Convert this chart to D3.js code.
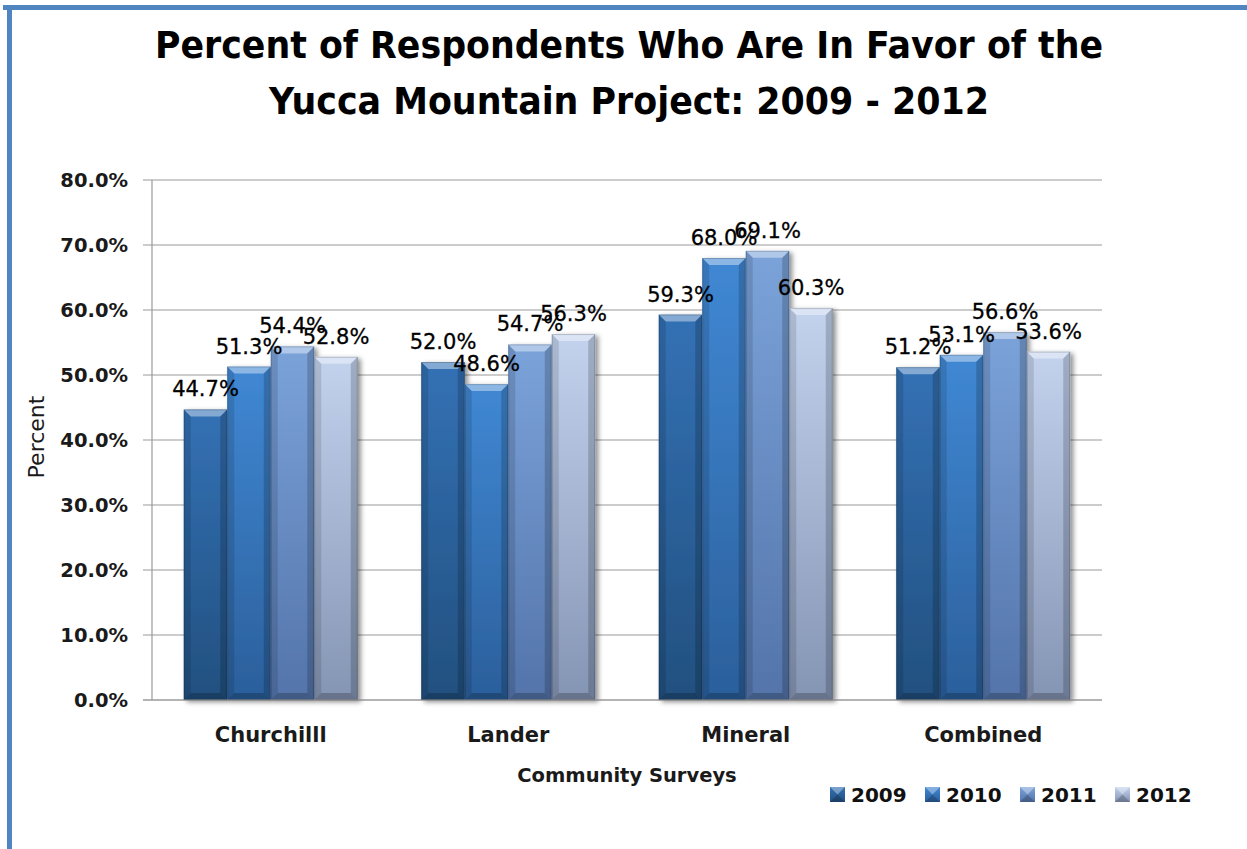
<!DOCTYPE html>
<html><head><meta charset="utf-8">
<script src="https://cdn.jsdelivr.net/npm/d3@7"></script>
<style>
html,body{margin:0;padding:0;background:#fff;}
svg{display:block;}
</style></head>
<body>
<script>
const categories = ["Churchilll", "Lander", "Mineral", "Combined"];
const seriesNames = ["2009", "2010", "2011", "2012"];
const values2009 = [44.7, 52.0, 59.3, 51.2];
const values2010 = [51.3, 48.6, 68.0, 53.1];
const values2011 = [54.4, 54.7, 69.1, 56.6];
const values2012 = [52.8, 56.3, 60.3, 53.6];
const yTicks = [0, 10, 20, 30, 40, 50, 60, 70, 80];
const titleLines = ["Percent of Respondents Who Are In Favor of the", "Yucca Mountain Project: 2009 - 2012"];

const seriesValues = [values2009, values2010, values2011, values2012];
const colorsTop = ["#3371b5", "#4088d4", "#7ba3da", "#c3d3ee"];
const colorsBot = ["#22507f", "#2b5f9b", "#5374aa", "#8494b3"];

const W = 1247, H = 849;
const svg = d3.select("body").append("svg").attr("width", W).attr("height", H);
const defs = svg.append("defs");

// frame
svg.append("rect").attr("x", 3).attr("y", 5).attr("width", W).attr("height", 5).attr("fill", "#4f86c2");
svg.append("rect").attr("x", 7).attr("y", 5).attr("width", 5).attr("height", H).attr("fill", "#4f86c2");

// title
const titleWidths = [948, 720];
const title = svg.append("text").attr("text-anchor", "middle")
  .attr("font-family", "'DejaVu Sans Condensed','DejaVu Sans',sans-serif")
  .attr("font-weight", "bold").attr("font-size", 37).attr("fill", "#000");
titleLines.forEach((t, i) => {
  title.append("tspan").attr("x", 629).attr("y", 58 + i * 56)
    .attr("textLength", titleWidths[i]).attr("lengthAdjust", "spacingAndGlyphs").text(t);
});

const plot = {left: 152, right: 1102, top: 180, bottom: 700};
const y = d3.scaleLinear().domain([0, 80]).range([plot.bottom, plot.top]);
const x0 = d3.scaleBand().domain(categories).range([plot.left, plot.right]).padding(0);
const groupW = 174;
const x1 = d3.scaleBand().domain(seriesNames).range([0, groupW]).padding(0);

// gridlines
svg.append("g").selectAll("line").data(yTicks).join("line")
  .attr("x1", plot.left - 9).attr("x2", plot.right)
  .attr("y1", d => y(d)).attr("y2", d => y(d))
  .attr("stroke", "#9a9a9a").attr("stroke-width", 1.2);
svg.append("line").attr("x1", plot.left).attr("x2", plot.left)
  .attr("y1", plot.top).attr("y2", plot.bottom).attr("stroke", "#9a9a9a").attr("stroke-width", 1.2);

// y tick labels
svg.append("g").selectAll("text").data(yTicks).join("text")
  .attr("x", 128).attr("y", d => y(d)).attr("dy", "0.36em")
  .attr("text-anchor", "end")
  .attr("font-family", "'DejaVu Sans',sans-serif").attr("font-weight", "bold").attr("font-size", 19.5)
  .attr("fill", "#1a1a1a")
  .text(d => d3.format(".1f")(d) + "%");

// gradients
seriesNames.forEach((s, i) => {
  const g = defs.append("linearGradient").attr("id", "grad" + i).attr("x1", 0).attr("y1", 0).attr("x2", 0).attr("y2", 1);
  g.append("stop").attr("offset", "0%").attr("stop-color", colorsTop[i]);
  g.append("stop").attr("offset", "100%").attr("stop-color", colorsBot[i]);
});
const f = defs.append("filter").attr("id", "shadow").attr("x", "-20%").attr("y", "-10%").attr("width", "140%").attr("height", "120%");
f.append("feDropShadow").attr("dx", 3).attr("dy", 2).attr("stdDeviation", 2.5).attr("flood-color", "#000").attr("flood-opacity", 0.45);

const bevel = 7;
const bars = [];
categories.forEach((c, ci) => {
  seriesNames.forEach((s, si) => {
    bars.push({c, s, si, v: seriesValues[si][ci]});
  });
});

const gBars = svg.append("g");
const barG = gBars.selectAll("g.bar").data(bars).join("g").attr("class", "bar")
  .attr("transform", d => `translate(${x0(d.c) + (x0.bandwidth() - groupW) / 2 + x1(d.s)},0)`);

barG.each(function(d) {
  const g = d3.select(this);
  const w = x1.bandwidth();
  const top = y(d.v), bot = y(0), h = bot - top;
  g.append("rect").attr("x", 0).attr("y", top).attr("width", w).attr("height", h)
    .attr("fill", `url(#grad${d.si})`).attr("filter", "url(#shadow)");
  g.append("path").attr("d", `M0,${top} L${w},${top} L${w - bevel},${top + bevel} L${bevel},${top + bevel} Z`)
    .attr("fill", "#ffffff").attr("fill-opacity", 0.4);
  g.append("path").attr("d", `M0,${top} L${bevel},${top + bevel} L${bevel},${bot - bevel} L0,${bot} Z`)
    .attr("fill", "#000").attr("fill-opacity", 0.12);
  g.append("path").attr("d", `M${w},${top} L${w - bevel},${top + bevel} L${w - bevel},${bot - bevel} L${w},${bot} Z`)
    .attr("fill", "#000").attr("fill-opacity", 0.18);
  g.append("path").attr("d", `M0,${bot} L${bevel},${bot - bevel} L${w - bevel},${bot - bevel} L${w},${bot} Z`)
    .attr("fill", "#000").attr("fill-opacity", 0.22);
  g.append("rect").attr("x", 0.5).attr("y", top + 0.5).attr("width", w - 1).attr("height", h - 1)
    .attr("fill", "none").attr("stroke", "#000").attr("stroke-opacity", 0.18);
});

// x axis baseline
svg.append("line").attr("x1", plot.left - 9).attr("x2", plot.right)
  .attr("y1", plot.bottom).attr("y2", plot.bottom).attr("stroke", "#9a9a9a").attr("stroke-width", 1.2);

// data labels
svg.append("g").selectAll("text").data(bars).join("text")
  .attr("x", d => x0(d.c) + (x0.bandwidth() - groupW) / 2 + x1(d.s) + x1.bandwidth() / 2)
  .attr("y", d => y(d.v) - 13)
  .attr("text-anchor", "middle")
  .attr("font-family", "'DejaVu Sans',sans-serif").attr("font-size", 21).attr("fill", "#000")
  .attr("stroke", "#000").attr("stroke-width", 0.3)
  .text(d => d3.format(".1f")(d.v) + "%");

// category labels
svg.append("g").selectAll("text").data(categories).join("text")
  .attr("x", d => x0(d) + x0.bandwidth() / 2).attr("y", 742)
  .attr("text-anchor", "middle")
  .attr("font-family", "'DejaVu Sans',sans-serif").attr("font-weight", "bold").attr("font-size", 21)
  .attr("fill", "#1a1a1a").text(d => d);

// axis titles
svg.append("text").attr("x", 627).attr("y", 782).attr("text-anchor", "middle")
  .attr("font-family", "'DejaVu Sans',sans-serif").attr("font-weight", "bold").attr("font-size", 19.5)
  .attr("fill", "#1a1a1a").text("Community Surveys");
svg.append("text").attr("transform", "translate(44,437) rotate(-90)").attr("text-anchor", "middle")
  .attr("font-family", "'DejaVu Sans',sans-serif").attr("font-size", 22)
  .attr("fill", "#1a1a1a").text("Percent");

// legend
const legend = svg.append("g").selectAll("g").data(seriesNames).join("g")
  .attr("transform", (d, i) => `translate(${830 + i * 95},787)`);
legend.each(function(d, i) {
  const g = d3.select(this);
  const s = 15;
  g.append("rect").attr("width", s).attr("height", s).attr("fill", `url(#grad${i})`);
  g.append("path").attr("d", `M0,0 L${s},0 L${s/2},${s/2} Z`).attr("fill", "#fff").attr("fill-opacity", 0.35);
  g.append("path").attr("d", `M0,${s} L${s},${s} L${s/2},${s/2} Z`).attr("fill", "#000").attr("fill-opacity", 0.2);
  g.append("text").attr("x", 21).attr("y", s / 2).attr("dy", "0.36em")
    .attr("font-family", "'DejaVu Sans',sans-serif").attr("font-weight", "bold").attr("font-size", 20)
    .attr("fill", "#111").text(d);
});
</script>
</body></html>
